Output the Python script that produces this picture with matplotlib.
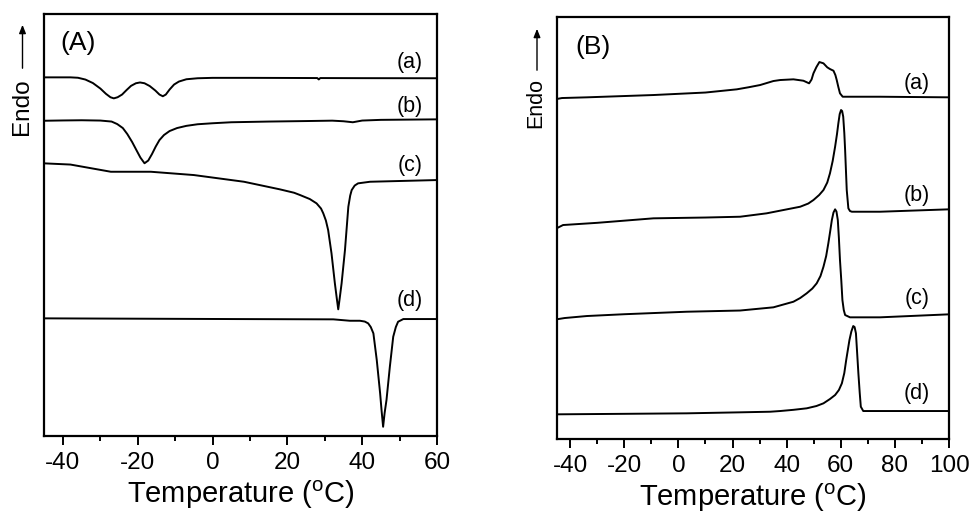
import matplotlib
matplotlib.use("Agg")
import matplotlib.pyplot as plt
from matplotlib.ticker import MultipleLocator

plt.rcParams['font.family'] = ['Liberation Sans', 'DejaVu Sans']
plt.rcParams['mathtext.fontset'] = 'custom'
plt.rcParams['mathtext.rm'] = 'Liberation Sans'

# ---------------- Panel A (cooling) ----------------
A_a_T = [-45, -38, -36, -34, -32, -30, -28.5, -27.3, -26.4, -25.4, -24.2, -23, -21.8, -20.5, -19.4,
         -18.2, -16.8, -15.3, -14.2, -13.3, -12.5, -11.5, -10.3, -9, -7, -4, 0, 10, 20, 28, 28.4, 28.8, 40, 60]
A_a_H = [35.87, 35.87, 35.83, 35.65, 35.30, 34.75, 34.22, 33.88, 33.77, 33.88, 34.15, 34.60, 35.02, 35.28, 35.36,
         35.28, 35.00, 34.55, 34.15, 33.98, 34.15, 34.65, 35.15, 35.45, 35.68, 35.78, 35.82, 35.82, 35.81, 35.80, 35.66, 35.80, 35.79, 35.78]

A_b_T = [-45, -40, -35, -30, -27, -25.5, -24, -22.8, -21.5, -20.3, -19.3, -18.2, -17.2, -16.2, -15.2, -14.2,
         -13, -11.5, -9.5, -7, -4, 0, 5, 15, 25, 32, 35, 37.5, 40, 45, 60]
A_b_H = [31.53, 31.56, 31.58, 31.55, 31.45, 31.20, 30.80, 30.20, 29.40, 28.55, 27.85, 27.28, 27.55, 28.20, 28.95, 29.60,
         30.10, 30.50, 30.80, 31.02, 31.18, 31.28, 31.38, 31.45, 31.50, 31.54, 31.48, 31.38, 31.55, 31.62, 31.67]

A_c_T = [-45, -38, -27.2, -16.5, -5, 8.4, 18.0, 21.8, 23.4, 26, 27.8, 29.0, 29.6, 30.3, 30.9, 31.8, 32.7, 33.2, 33.6,
         34.0, 34.5, 35.4, 36.3, 36.8, 37.2, 38.0, 38.9, 42.1, 60]
A_c_H = [27.27, 27.15, 26.43, 26.43, 26.10, 25.43, 24.67, 24.33, 24.10, 23.70, 23.27, 22.75, 22.27, 21.55, 20.60, 18.27, 15.27, 13.80, 12.67,
         13.80, 15.27, 18.60, 22.93, 24.05, 24.60, 25.05, 25.27, 25.43, 25.60]

A_d_T = [-45, 5.4, 32.3, 36.7, 39.4, 40.7, 41.6, 42.3, 43.0, 43.9, 44.8, 45.2, 45.6, 46.0, 46.5, 47.4, 48.3, 49.0, 49.6, 51, 60]
A_d_H = [11.77, 11.70, 11.67, 11.53, 11.53, 11.45, 11.27, 10.90, 10.27, 7.60, 4.27, 2.50, 0.93, 2.30, 3.60, 6.93, 9.93, 10.90, 11.43, 11.70, 11.70]

# ---------------- Panel B (heating) ----------------
B_a_T = [-45, -43, -33.8, -9.2, 10, 21.6, 26, 30.2, 35.1, 37.6, 42.5, 46.2, 48.3, 49.2, 49.9, 51.0, 52.1, 53.6, 55.0,
         56.0, 57.3, 58.0, 58.5, 59.1, 59.7, 60.7, 63.4, 74.5, 100]
B_a_H = [34.00, 34.10, 34.17, 34.40, 34.65, 34.97, 35.18, 35.40, 35.80, 35.90, 35.97, 35.83, 35.57, 35.95, 36.57, 37.20, 37.70, 37.57, 37.17,
         37.00, 36.83, 36.40, 35.90, 35.20, 34.57, 34.23, 34.23, 34.23, 34.17]

B_b_T = [-45, -42.6, -30, -9.2, 10, 22.8, 32.6, 38.8, 45, 48, 49.9, 52, 53.6, 55, 56.0, 57.0, 57.9, 58.6, 59.1, 59.6, 60.1,
         60.5, 60.9, 61.3, 61.6, 62.2, 62.8, 63.4, 64.1, 74.5, 100]
B_b_H = [21.07, 21.40, 21.62, 22.07, 22.15, 22.23, 22.57, 22.90, 23.23, 23.55, 23.90, 24.40, 24.90, 25.65, 26.57, 27.80, 29.23, 30.50, 31.57, 32.50, 32.90,
         32.80, 32.23, 30.60, 28.90, 24.90, 23.07, 22.80, 22.73, 22.73, 22.97]

B_c_T = [-45, -42, -33.8, -20, 3.1, 22.8, 35.1, 42.5, 45, 47.4, 49.5, 51.1, 52.5, 53.6, 54.6, 55.4, 56.1, 56.7, 57.3, 57.9,
         58.4, 58.9, 59.3, 59.7, 60.2, 60.6, 61.1, 61.6, 63.4, 74.5, 100]
B_c_H = [11.97, 12.10, 12.30, 12.48, 12.73, 12.85, 13.17, 13.73, 14.10, 14.57, 15.05, 15.57, 16.30, 17.23, 18.30, 19.57, 20.80, 21.90, 22.65, 22.97,
         22.75, 21.90, 20.10, 17.90, 15.80, 13.90, 12.90, 12.40, 12.17, 12.17, 12.47]

B_d_T = [-45, -20, 3.1, 22.8, 33.9, 37.6, 42.5, 47.4, 51, 53.6, 56, 57.9, 59.3, 60.4, 61.3, 62.0, 62.6, 63.2, 63.9, 64.6,
         65.1, 65.6, 66.0, 66.5, 67.0, 67.4, 68.3, 74.5, 100]
B_d_H = [2.47, 2.52, 2.57, 2.67, 2.73, 2.80, 2.92, 3.07, 3.30, 3.57, 4.00, 4.40, 4.90, 5.57, 6.60, 7.90, 8.90, 9.90, 10.75, 11.30,
         11.20, 10.57, 8.80, 6.57, 4.60, 3.23, 2.80, 2.80, 2.80]

labels = ['(a)', '(b)', '(c)', '(d)']
A_label_H = [37.4, 33.0, 27.1, 13.6]
B_label_H = [35.6, 24.4, 14.1, 4.6]

A_xticks = [-40, -20, 0, 20, 40, 60]
B_xticks = [-40, -20, 0, 20, 40, 60, 80, 100]

fig = plt.figure(figsize=(9.73, 5.13), dpi=100)
axA = fig.add_axes([0.0455, 0.150, 0.4036, 0.8226])
axB = fig.add_axes([0.572, 0.1442, 0.4034, 0.8226])

lw = 1.4
for T, H in [(A_a_T, A_a_H), (A_b_T, A_b_H), (A_c_T, A_c_H), (A_d_T, A_d_H)]:
    axA.plot(T, H, color='black', lw=lw, solid_joinstyle='round')
for T, H in [(B_a_T, B_a_H), (B_b_T, B_b_H), (B_c_T, B_c_H), (B_d_T, B_d_H)]:
    axB.plot(T, H, color='black', lw=lw, solid_joinstyle='round')

axA.set_xlim(-45, 60)
axA.set_ylim(0, 42.2)
axB.set_xlim(-45, 100)
axB.set_ylim(0, 42.2)

for ax, ticks in [(axA, A_xticks), (axB, B_xticks)]:
    ax.set_xticks(ticks)
    ax.set_xticklabels([str(t) for t in ticks])
    ax.xaxis.set_minor_locator(MultipleLocator(10))
    ax.set_yticks([])
    ax.tick_params(axis='x', which='major', direction='out', length=6.5, width=1.4,
                   labelsize=17.5, pad=5, colors='black')
    ax.tick_params(axis='x', which='minor', direction='out', length=3.5, width=1.4)
    for s in ax.spines.values():
        s.set_linewidth(1.6)
    ax.set_xlabel('Temperature ($^{\\rm o}$C)', fontsize=21, labelpad=3)

for lab, h in zip(labels, A_label_H):
    axA.text(52.8, h, lab, fontsize=15.5, ha='center', va='center')
for lab, h in zip(labels, B_label_H):
    axB.text(88.2, h, lab, fontsize=15.5, ha='center', va='center')

axA.text(-40.8, 39.3, '(A)', fontsize=19, ha='left', va='center')
axB.text(-38.2, 39.2, '(B)', fontsize=19, ha='left', va='center')

# Endo labels with arrows (figure coordinates)
W, Hh = 973.0, 513.0
fig.text(22 / W, 1 - 107 / Hh, 'Endo', rotation=90, fontsize=17.5, ha='center', va='center')
fig.add_artist(matplotlib.patches.FancyArrowPatch((22.5 / W, 1 - 71 / Hh), (22.5 / W, 1 - 22 / Hh),
               transform=fig.transFigure, arrowstyle='-|>,head_length=5,head_width=2', lw=1.0, color='black'))
fig.text(536 / W, 1 - 103 / Hh, 'Endo', rotation=90, fontsize=15.5, ha='center', va='center')
fig.add_artist(matplotlib.patches.FancyArrowPatch((537 / W, 1 - 73 / Hh), (537 / W, 1 - 26 / Hh),
               transform=fig.transFigure, arrowstyle='-|>,head_length=5,head_width=2', lw=1.0, color='black'))

fig.savefig('out.png', dpi=100)
